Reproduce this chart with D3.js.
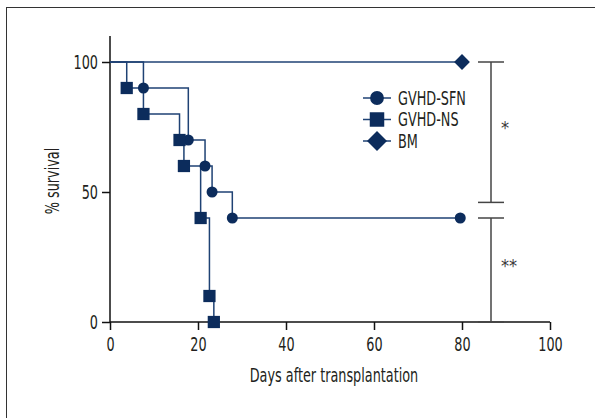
<!DOCTYPE html>
<html>
<head>
<meta charset="utf-8">
<script src="https://cdn.jsdelivr.net/npm/d3@7"></script>
<style>
  html, body { margin: 0; padding: 0; background: #fff; }
  svg { display: block; }
  text { font-family: "DejaVu Sans Condensed", "Liberation Sans Narrow", sans-serif; fill: #231f20; }
</style>
</head>
<body>
<svg id="chart" width="595" height="418"></svg>
<script>
// Kaplan–Meier survival curves (days after transplantation, % survival)
const sfnDays = [0, 7.6, 17.8, 21.6, 23.2, 27.8, 79.6];
const sfnSurv = [100, 90, 70, 60, 50, 40, 40];
const nsDays  = [0, 3.8, 7.6, 15.8, 16.8, 20.6, 22.6, 23.6];
const nsSurv  = [100, 90, 80, 70, 60, 40, 10, 0];
const bmDays  = [0, 80];
const bmSurv  = [100, 100];

const seriesNames = ["GVHD-SFN", "GVHD-NS", "BM"];
const xTicks = [0, 20, 40, 60, 80, 100];
const yTicks = [0, 50, 100];
const sigLabels = ["*", "**"];
const sigRanges = [[100, 46], [40, 0]];

const navy = "#0c2c5c";
const lineCol = "#1f4274";
const fontSize = 19;
const squeeze = 0.75;   // narrow the glyphs to a condensed look

const svg = d3.select("#chart");

// frame around the figure
svg.append("rect")
  .attr("x", 6.5).attr("y", 7.5)
  .attr("width", 620).attr("height", 440)
  .attr("fill", "none").attr("stroke", "#333").attr("stroke-width", 1);

const x = d3.scaleLinear().domain([0, 100]).range([110, 550]);
const y = d3.scaleLinear().domain([0, 110]).range([322, 36]);

// axes
const xAxis = svg.append("g").attr("transform", `translate(0,${y(0)})`)
  .call(d3.axisBottom(x).tickValues(xTicks).tickSize(8).tickPadding(4));
const yAxis = svg.append("g").attr("transform", `translate(${x(0)},0)`)
  .call(d3.axisLeft(y).tickValues(yTicks).tickSize(8).tickPadding(4));
[xAxis, yAxis].forEach(g => {
  g.attr("font-family", null);
  g.select(".domain").attr("stroke", "#111").attr("stroke-width", 1.5);
  g.selectAll(".tick line").attr("stroke", "#111").attr("stroke-width", 1.5);
  g.selectAll(".tick text").attr("font-size", fontSize).style("fill", "#231f20");
});
xAxis.select(".domain").attr("d", `M${x(0)},0H${x(100)}`);
yAxis.select(".domain").attr("d", `M0,${y(0)}V${y(110)}`);
yAxis.selectAll(".tick text").attr("dy", "0.36em");
xAxis.selectAll(".tick text").attr("dy", "0.9em");

// axis titles
svg.append("text")
  .attr("x", 334).attr("y", 382)
  .attr("text-anchor", "middle").attr("font-size", fontSize)
  .text("Days after transplantation");
svg.append("text")
  .attr("transform", `translate(59,${(y(0) + y(110)) / 2 + 2}) rotate(-90)`)
  .attr("text-anchor", "middle").attr("font-size", fontSize)
  .text("% survival");

// step curves
const stepLine = d3.line().x(d => x(d[0])).y(d => y(d[1])).curve(d3.curveStepAfter);
const series = [
  { name: seriesNames[0], days: sfnDays, surv: sfnSurv, shape: d3.symbolCircle, size: 95, rot: 0 },
  { name: seriesNames[1], days: nsDays,  surv: nsSurv,  shape: d3.symbolSquare, size: 150, rot: 0 },
  { name: seriesNames[2], days: bmDays,  surv: bmSurv,  shape: d3.symbolSquare, size: 125, rot: 45 }
];

series.slice().reverse().forEach(s => {
  const pts = s.days.map((d, i) => [d, s.surv[i]]);
  svg.append("path")
    .attr("d", stepLine(pts))
    .attr("fill", "none").attr("stroke", lineCol).attr("stroke-width", 1.5);
});
series.forEach(s => {
  const pts = s.days.map((d, i) => [d, s.surv[i]]).slice(1);
  svg.append("g").selectAll("path").data(pts).join("path")
    .attr("transform", d => `translate(${x(d[0])},${y(d[1])}) rotate(${s.rot})`)
    .attr("d", d3.symbol().type(s.shape).size(s.size))
    .attr("fill", navy);
});

// legend
const legend = svg.append("g").attr("transform", "translate(363,98)");
const legendSizes = [150, 210, 200];
series.forEach((s, i) => {
  const row = legend.append("g").attr("transform", `translate(0,${i * 21.5})`);
  row.append("line").attr("x1", 0).attr("x2", 28).attr("y1", 0).attr("y2", 0)
    .attr("stroke", lineCol).attr("stroke-width", 1.5);
  row.append("path").attr("transform", `translate(14,0) rotate(${s.rot})`)
    .attr("d", d3.symbol().type(s.shape).size(legendSizes[i]))
    .attr("fill", navy);
  row.append("text").attr("x", 35).attr("y", 0).attr("dy", "0.36em")
    .attr("font-size", fontSize).text(s.name);
});

// condense every label horizontally
svg.selectAll("text").each(function () {
  const len = this.getComputedTextLength();
  d3.select(this).attr("textLength", len * squeeze).attr("lengthAdjust", "spacingAndGlyphs");
});

// significance brackets with their asterisks
const bx = 491;
sigRanges.forEach((r, i) => {
  const g = svg.append("g").attr("stroke", "#444").attr("stroke-width", 1.5);
  g.append("line").attr("x1", bx).attr("x2", bx).attr("y1", y(r[0])).attr("y2", y(r[1]));
  g.append("line").attr("x1", bx - 13).attr("x2", bx + 13).attr("y1", y(r[0])).attr("y2", y(r[0]));
  g.append("line").attr("x1", bx - 13).attr("x2", bx + 13).attr("y1", y(r[1])).attr("y2", y(r[1]));
  svg.append("text")
    .attr("x", bx + 10).attr("y", (y(r[0]) + y(r[1])) / 2 + 2)
    .attr("font-family", "DejaVu Sans")
    .attr("font-size", 18).style("fill", "#3a3a3a").text(sigLabels[i]);
});
</script>
</body>
</html>
